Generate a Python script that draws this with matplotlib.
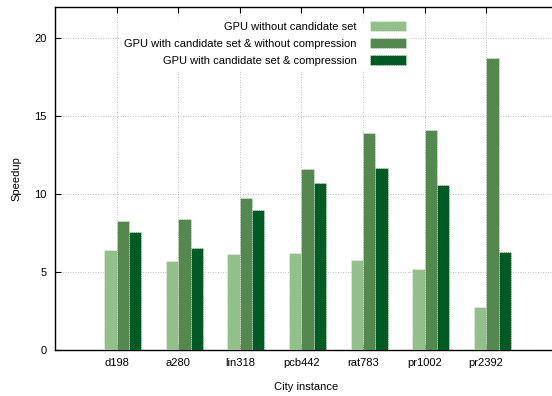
import matplotlib
matplotlib.use("Agg")
import matplotlib.pyplot as plt
import numpy as np

cities = ["d198", "a280", "lin318", "pcb442", "rat783", "pr1002", "pr2392"]
no_cand = [6.4, 5.68, 6.13, 6.22, 5.77, 5.19, 2.78]
cand_no_comp = [8.3, 8.42, 9.75, 11.6, 13.93, 14.1, 18.76]
cand_comp = [7.55, 6.56, 9.0, 10.7, 11.68, 10.6, 6.28]
series_labels = ["GPU without candidate set",
                 "GPU with candidate set & without compression",
                 "GPU with candidate set & compression"]
colors = ["#93bf8b", "#55884f", "#005a24"]

plt.rcParams['font.family'] = ['Liberation Sans', 'DejaVu Sans']
fig = plt.figure(figsize=(5.52, 3.96), dpi=100)
W, H = 552, 396
left, right, top, bottom = 55, 558, 7, 350
ax = fig.add_axes([left / W, 1 - bottom / H, (right - left) / W, (bottom - top) / H])

x = np.arange(1, len(cities) + 1)
w = 0.2
handles = []
for i, (vals, c) in enumerate(zip([no_cand, cand_no_comp, cand_comp], colors)):
    b = ax.bar(x - w + i * w, vals, width=w, align='edge', color=c,
               edgecolor='white', linewidth=0.4, linestyle=(0, (2, 2)),
               label=series_labels[i], zorder=3)
    handles.append(b)

ax.set_xlim(0, (right - left) / 61.6)
ax.set_ylim(0, 22)
ax.set_xticks(x)
ax.set_xticklabels(cities, fontsize=8)
ax.set_yticks([0, 5, 10, 15, 20])
ax.set_yticklabels(["0", "5", "10", "15", "20"], fontsize=8)
ax.tick_params(direction='in', top=True, right=True, length=4, width=0.8, pad=6)
ax.grid(True, linestyle=(0, (1, 2)), color='#aaaaaa', linewidth=0.6, zorder=0)
for s in ax.spines.values():
    s.set_linewidth(1.0)

ax.set_ylabel("Speedup", fontsize=8, labelpad=9)
ax.set_xlabel("City instance", fontsize=8, labelpad=10)

leg = ax.legend(handles=handles, loc='upper left', bbox_to_anchor=(0.12, 0.985),
                frameon=True, framealpha=1.0, edgecolor='white', fancybox=False,
                fontsize=8, markerfirst=False, handlelength=3.2, handleheight=1.0,
                labelspacing=0.55, borderpad=0.3, handletextpad=1.2)
for t in leg.get_texts():
    t.set_ha('right')
leg.set_zorder(5)

fig.savefig("out.png", dpi=100)
